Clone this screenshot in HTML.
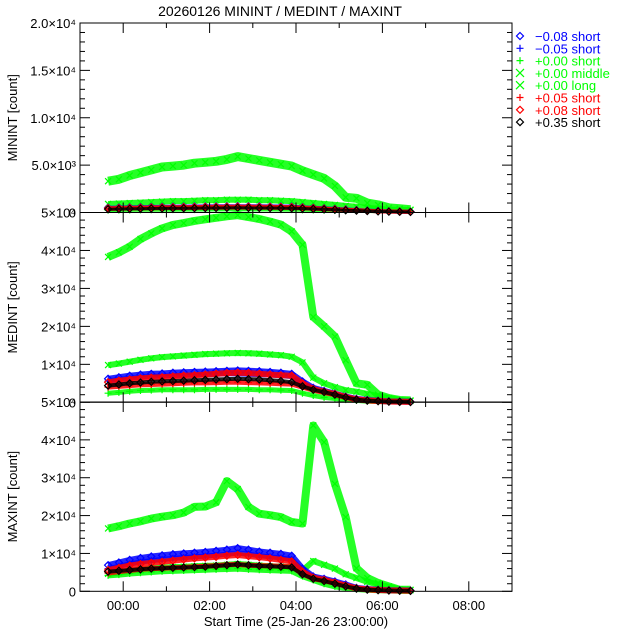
<!DOCTYPE html>
<html><head><meta charset="utf-8"><style>
html,body{margin:0;padding:0;background:#fff;}
svg{display:block;font-family:"Liberation Sans",sans-serif;}
</style></head><body>
<svg id="chart" width="640" height="640" viewBox="0 0 640 640" xmlns="http://www.w3.org/2000/svg">
<text x="280" y="16" font-size="14" text-anchor="middle">20260126 MININT / MEDINT / MAXINT</text>
<text x="296" y="626" font-size="13" text-anchor="middle">Start Time (25-Jan-26 23:00:00)</text>
<g id="plots"></g>
<g id="legend"></g>
</svg>
<script>
const times=[-0.35,-0.1,0.15,0.4,0.65,0.9,1.15,1.4,1.65,1.9,2.15,2.4,2.65,2.9,3.15,3.4,3.65,3.9,4.15,4.4,4.65,4.9,5.15,5.4,5.65,5.9,6.15,6.4,6.65];
const xTickLabels=["00:00","02:00","04:00","06:00","08:00"];
const xTickHours=[0,2,4,6,8];
// MININT
const minGLong=[3300,3500,3900,4200,4500,4800,4900,5000,5200,5300,5400,5600,5900,5700,5500,5300,5100,4900,4400,4000,3600,2800,1600,1500,1000,800,500,400,300];
const minGMid=[900,950,1000,1050,1100,1150,1200,1200,1250,1300,1300,1350,1350,1350,1300,1300,1250,1200,1100,1000,900,800,700,600,500,400,300,300,250];
const minGShort=[250,260,270,280,290,300,300,310,310,320,320,330,330,330,320,320,310,300,280,260,240,220,200,180,160,140,120,100,100];
const minBlueD=[500,520,540,560,580,600,610,620,630,640,650,660,670,660,650,640,630,620,560,500,440,380,320,260,200,160,120,100,80];
const minBlueP=[420,440,460,480,500,510,520,530,540,550,560,570,570,570,560,550,540,530,480,430,380,330,280,230,180,140,110,90,70];
const minRedP=[380,400,420,440,450,460,470,480,490,500,510,520,520,520,510,500,490,480,440,400,360,310,260,210,170,130,100,80,60];
const minRedD=[450,470,490,510,530,550,560,570,580,590,600,610,620,610,600,590,580,570,520,470,410,350,290,230,180,140,110,90,70];
const minBlack=[350,370,390,400,420,430,440,450,460,470,480,490,500,490,480,470,460,450,420,380,340,290,240,200,160,120,90,70,60];
// MEDINT
const medGLong=[38300,39500,41000,43000,44500,45800,46700,47200,47800,48200,48600,49000,49300,48800,48300,47600,46800,45000,41500,22500,20000,17300,11100,5000,4600,2000,1100,600,500];
const medGMid=[9800,10200,10700,11200,11600,11900,12100,12300,12500,12700,12800,12900,13000,12900,12800,12600,12400,12000,10500,6500,5000,4000,3200,2800,2200,1600,1100,600,400];
const medGShort=[2400,2600,2900,3100,3200,3300,3300,3300,3300,3400,3400,3400,3400,3400,3300,3300,3200,3100,2400,1800,1300,1000,700,500,300,200,100,100,50];
const medBlueD=[6200,6600,7000,7300,7500,7600,7800,7900,8000,8100,8200,8300,8400,8300,8200,8000,7800,7500,5500,3800,3000,2300,1500,900,600,400,250,200,150];
const medBlueP=[5600,6000,6300,6600,6800,6900,7000,7100,7200,7300,7400,7500,7500,7400,7300,7200,7000,6800,5000,3600,2800,2100,1400,800,500,350,200,150,100];
const medRedP=[4000,4200,4400,4600,4700,4800,4900,5000,5100,5100,5200,5300,5300,5200,5100,5000,4900,4800,4000,3200,2600,2000,1300,700,450,300,180,120,80];
const medRedD=[5300,5700,6000,6300,6500,6600,6800,7000,7100,7300,7500,7700,7800,7700,7500,7300,7100,7000,5000,3500,2800,2200,1400,800,500,350,200,150,100];
const medBlack=[4400,4700,5000,5200,5400,5500,5600,5700,5800,5900,6000,6100,6200,6100,6000,5800,5600,5300,4200,3300,2700,2000,1300,700,450,300,180,120,80];
// MAXINT
const maxGLong=[16600,17200,17900,18500,19200,19700,20100,20800,22300,22400,23500,29100,27000,22300,20500,20100,19600,18300,17900,43800,39400,28400,19600,6100,3500,2200,1300,400,400];
const maxGMid=[4600,5000,5400,5700,6000,6200,6400,6500,6600,6700,6800,7000,7200,7000,6800,6600,6500,6400,5500,8000,7000,6000,4500,3500,2500,1800,1200,500,300];
const maxGShort=[4200,4400,4700,4900,5100,5300,5400,5500,5600,5700,5800,5900,6000,5800,5700,5600,5500,5400,4000,3000,2000,1300,900,600,400,300,200,150,100];
const maxBlueD=[6900,7600,8300,8800,9200,9500,9800,10000,10200,10400,10700,11000,11400,11000,10500,10200,9900,9400,6000,3900,3300,2600,1800,900,600,400,300,250,200];
const maxBlueP=[6000,6600,7200,7700,8100,8400,8700,8900,9100,9300,9500,9800,10100,9800,9400,9100,8800,8400,5500,3700,3100,2400,1600,800,550,380,280,220,180];
const maxRedD=[5600,6200,6800,7200,7500,7800,8100,8400,8700,8900,9100,9400,9600,9300,9000,8700,8300,7900,5200,3600,3000,2300,1500,800,500,350,250,200,150];
const maxRedP=[4800,5200,5500,5800,6000,6100,6200,6300,6500,6600,6800,7000,7100,6900,6800,6700,6600,6500,4600,3300,2800,2100,1400,700,450,300,200,150,120];
const maxBlack=[5200,5400,5600,5800,6000,6100,6200,6300,6400,6500,6700,6900,7100,6900,6700,6600,6500,6300,4500,3300,2700,2000,1300,700,450,300,200,150,120];

const NS="http://www.w3.org/2000/svg";
const X0=80,X1=512,H0=-1,H1=9;
function xs(h){return X0+(h-H0)/(H1-H0)*(X1-X0);}
const panels=[
 {name:"minint",top:23,bot:212.5,max:20000,major:5000,minor:1000,title:"MININT [count]",
  labels:["0","5.0×10³","1.0×10⁴","1.5×10⁴","2.0×10⁴"],labelVals:[0,5000,10000,15000,20000],
  series:[[minGLong,"#00ff00","x",9],[minGMid,"#00ff00","x",6],[minGShort,"#00ff00","+",4],[minBlueD,"#0000ff","d",4],[minBlueP,"#0000ff","+",4],[minRedP,"#ff0000","+",4],[minRedD,"#ff0000","d",4],[minBlack,"#000000","d",3]]},
 {name:"medint",top:212.5,bot:402.3,max:50000,major:10000,minor:2000,title:"MEDINT [count]",
  labels:["0","1×10⁴","2×10⁴","3×10⁴","4×10⁴","5×10⁴"],labelVals:[0,10000,20000,30000,40000,50000],
  series:[[medGLong,"#00ff00","x",8],[medGMid,"#00ff00","x",6],[medGShort,"#00ff00","+",5],[medBlueD,"#0000ff","d",6],[medBlueP,"#0000ff","+",5],[medRedP,"#ff0000","+",5],[medRedD,"#ff0000","d",6],[medBlack,"#000000","d",4]]},
 {name:"maxint",top:402,bot:591.3,max:50000,major:10000,minor:2000,title:"MAXINT [count]",
  labels:["0","1×10⁴","2×10⁴","3×10⁴","4×10⁴","5×10⁴"],labelVals:[0,10000,20000,30000,40000,50000],
  series:[[maxGLong,"#00ff00","x",8],[maxGMid,"#00ff00","x",6],[maxGShort,"#00ff00","+",6],[maxBlueD,"#0000ff","d",6],[maxBlueP,"#0000ff","+",5],[maxRedP,"#ff0000","+",5],[maxRedD,"#ff0000","d",6],[maxBlack,"#000000","d",4]]}
];
const root=document.getElementById("plots");
function mk(tag,attrs,parent){const e=document.createElementNS(NS,tag);for(const k in attrs)e.setAttribute(k,attrs[k]);(parent||root).appendChild(e);return e;}
function marker(g,type,x,y,c){
 if(type==="x"){mk("path",{d:`M${x-3},${y-3}L${x+3},${y+3}M${x-3},${y+3}L${x+3},${y-3}`,stroke:c,"stroke-width":1.2,fill:"none"},g);}
 else if(type==="+"){mk("path",{d:`M${x-3.5},${y}L${x+3.5},${y}M${x},${y-3.5}L${x},${y+3.5}`,stroke:c,"stroke-width":1.2,fill:"none"},g);}
 else {mk("path",{d:`M${x},${y-3.5}L${x+3.5},${y}L${x},${y+3.5}L${x-3.5},${y}Z`,stroke:c,"stroke-width":1.2,fill:"none"},g);}
}
panels.forEach((p,pi)=>{
 const ys=v=>p.bot-(v/p.max)*(p.bot-p.top);
 const pg=mk("g",{});
 
 
 // series
 p.series.forEach((s,si)=>{
  const [vals,col,type,band]=s;
  const g=mk("g",{},pg);
  
  
  const pts=vals.map((v,i)=>xs(times[i]).toFixed(1)+","+ys(v).toFixed(1)).join(" ");
  mk("polyline",{points:pts,fill:"none",stroke:col,"stroke-width":band,"stroke-opacity":0.85,"stroke-linejoin":"round"},g);
  vals.forEach((v,i)=>marker(g,type,xs(times[i]),ys(v),col));
 });
 // frame
 const fr=mk("rect",{x:X0,y:p.top,width:X1-X0,height:p.bot-p.top,fill:"none",stroke:"#000","stroke-width":1},pg);
 
 
 // y ticks
 const ax=mk("g",{},pg);
 
 
 for(let v=0;v<=p.max;v+=p.minor){
  const y=ys(v);const len=(v%p.major===0)?10:5;
  mk("line",{x1:X0,y1:y,x2:X0+len,y2:y,stroke:"#000"},ax);
  mk("line",{x1:X1,y1:y,x2:X1-len,y2:y,stroke:"#000"},ax);
 }
 p.labels.forEach((l,i)=>{
  if(pi>0&&i===p.labels.length-1&&false)return;
  const t=mk("text",{x:76,y:ys(p.labelVals[i])+5,"font-size":13,"text-anchor":"end"},ax);
  t.textContent=l;
 });
 const yt=mk("text",{x:0,y:0,"font-size":13,"text-anchor":"middle",transform:`translate(17,${(p.top+p.bot)/2}) rotate(-90)`},pg);
 
 
 yt.textContent=p.title;
 // x ticks
 for(let h=0;h<=8;h++){
  const x=xs(h);const len=(h%2===0)?10:5;
  mk("line",{x1:x,y1:p.bot,x2:x,y2:p.bot-len,stroke:"#000"},pg);
  mk("line",{x1:x,y1:p.top,x2:x,y2:p.top+len,stroke:"#000"},pg);
 }
});
const xl=mk("g",{});


xTickLabels.forEach((l,i)=>{const t=mk("text",{x:xs(xTickHours[i]),y:610,"font-size":13,"text-anchor":"middle"},xl);t.textContent=l;});
// legend
const legSym=["d","+","+","x","x","+","d","d"];
const legCol=["#0000ff","#0000ff","#00ff00","#00ff00","#00ff00","#ff0000","#ff0000","#000000"];
const legText=["−0.08 short","−0.05 short","+0.00 short","+0.00 middle","+0.00 long","+0.05 short","+0.08 short","+0.35 short"];
const lg=document.getElementById("legend");
legText.forEach((txt,i)=>{
 const y=36+i*12.3;
 const g=mk("g",{},lg);
 
 
 if(legSym[i]==="x"){mk("path",{d:`M${520-4},${y-4}L${520+4},${y+4}M${520-4},${y+4}L${520+4},${y-4}`,stroke:legCol[i],"stroke-width":1.2,fill:"none"},g);}
 else marker(g,legSym[i],520,y,legCol[i]);
 const t=mk("text",{x:535,y:y+5,"font-size":13,fill:legCol[i]},g);
 t.textContent=txt;
});
</script>
</body></html>
